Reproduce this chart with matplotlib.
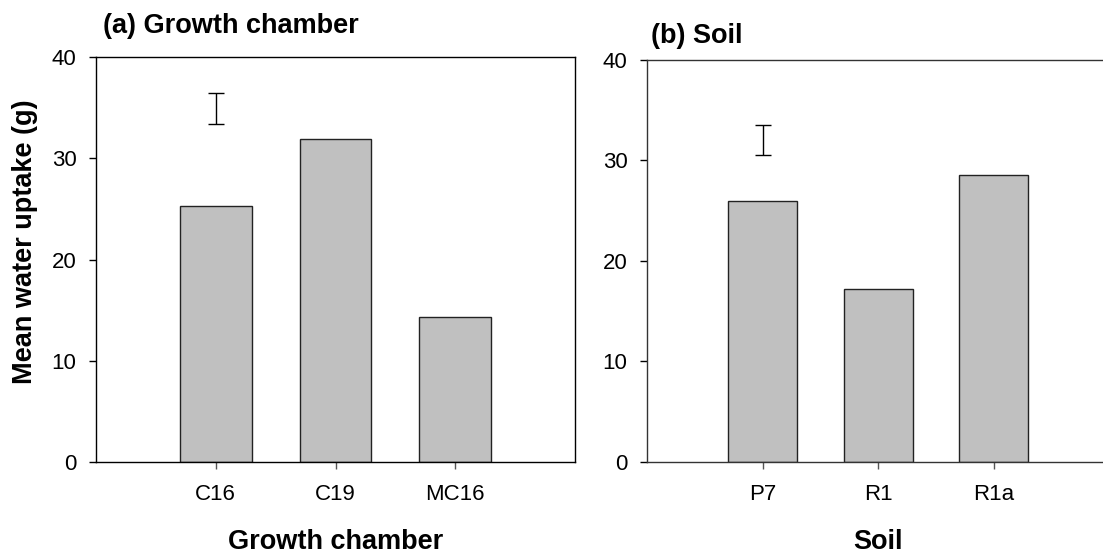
import matplotlib
matplotlib.use("Agg")
import matplotlib.pyplot as plt

plt.rcParams['font.family'] = ['Liberation Sans', 'DejaVu Sans']

# Data
chambers = ["C16", "C19", "MC16"]
chamber_uptake = [25.3, 31.9, 14.35]
chamber_err_center = 34.95
chamber_err_half = 1.52

soils = ["P7", "R1", "R1a"]
soil_uptake = [26.0, 17.15, 28.5]
soil_err_center = 32.02
soil_err_half = 1.53

yticks = [0, 10, 20, 30, 40]

W, H = 1103, 554
fig = plt.figure(figsize=(W / 100, H / 100), dpi=100)

def px_axes(left, top, right, bottom):
    return fig.add_axes([left / W, 1 - bottom / H, (right - left) / W, (bottom - top) / H])

ax1 = px_axes(96, 57, 575, 462)
ax2 = px_axes(647, 60, 1109.4, 461.5)

def style(ax, cats, vals, ec, eh, spine_color):
    x = list(range(1, len(cats) + 1))
    ax.bar(x, vals, width=0.6, color="#c0c0c0", edgecolor="#222222", linewidth=1.0, zorder=2)
    ax.errorbar([1], [ec], yerr=[eh], fmt="none", ecolor="black", elinewidth=1.0,
                capsize=5.5, capthick=1.0, zorder=3)
    ax.set_xlim(0, 4)
    ax.set_ylim(0, 40)
    ax.set_xticks(x)
    ax.set_xticklabels(cats)
    ax.set_yticks(yticks)
    ax.tick_params(axis="both", direction="out", length=5, width=1.0, labelsize=16,
                   colors="black")
    ax.tick_params(axis="x", pad=11, color="#555555")
    ax.tick_params(axis="y", pad=9)
    for s in ax.spines.values():
        s.set_linewidth(1.0)
        s.set_color(spine_color)

style(ax1, chambers, chamber_uptake, chamber_err_center, chamber_err_half, "black")
style(ax2, soils, soil_uptake, soil_err_center, soil_err_half, "#333333")

bold = dict(fontsize=19.5, fontweight="bold")
fig.text(102.7 / W, 1 - 33 / H, "(a) Growth chamber", ha="left", va="baseline", **bold)
fig.text(650.7 / W, 1 - 43.3 / H, "(b) Soil", ha="left", va="baseline", **bold)
fig.text(335.5 / W, 1 - 549 / H, "Growth chamber", ha="center", va="baseline", **bold)
fig.text(878 / W, 1 - 549 / H, "Soil", ha="center", va="baseline", **bold)
fig.text(25 / W, 1 - 242 / H, "Mean water uptake (g)", ha="center", va="center",
         rotation=90, **bold)

fig.savefig("out.png", dpi=100)
